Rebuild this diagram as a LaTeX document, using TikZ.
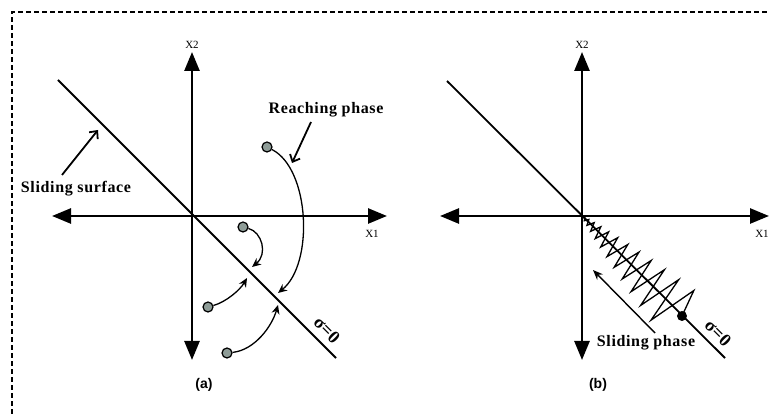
\documentclass[tikz,border=0pt]{standalone}
\usepackage{fontspec}
\setmainfont{Liberation Serif}
\newfontfamily\capfont{Liberation Sans}
\usetikzlibrary{arrows.meta,positioning}
\definecolor{dotgray}{HTML}{8E9C97}

\begin{document}
\begin{tikzpicture}[x=1pt,y=1pt,
	axis/.style={line width=2.6pt, {Triangle[length=19pt,width=15pt]}-{Triangle[length=19pt,width=15pt]}},
	surf/.style={line width=1.8pt},
	traj/.style={line width=1.3pt, -{Stealth[length=9pt,width=8pt]}},
	state/.style={circle, draw, fill=dotgray, line width=1.2pt, minimum size=10pt, inner sep=0pt},
	lbl/.style={font=\bfseries\fontsize{16}{18}\selectfont\addfontfeature{LetterSpace=4}, inner sep=1pt},
	siglbl/.style={font=\bfseries\fontsize{18}{20}\selectfont, inner sep=0pt, rotate=-45},
	axlbl/.style={font=\fontsize{11}{12}\selectfont, inner sep=1pt},
	panellbl/.style={font=\capfont\bfseries\fontsize{14}{16}\selectfont}]
		\useasboundingbox (0,0) rectangle (770,414);
		\draw[line width=1.5pt, dash pattern=on 5pt off 3pt] (12,0) -- (12,402) -- (770,402);
		
		% panel (a)
		\coordinate (Oa) at (192,198);
		\coordinate (ya1) at (192,362);
		\coordinate (ya2) at (192,54);
		\coordinate (xa1) at (52,198);
		\coordinate (xa2) at (387,198);
		\draw [axis] (ya2) -- (ya1);
		\draw [axis] (xa1) -- (xa2);
		\node [axlbl] (X2a) at (192,369) {X2};
		\node [axlbl] (X1a) at (372,180) {X1};
		\coordinate (sa1) at (58,334);
		\coordinate (sa2) at (336,56);
		\draw [surf] (sa1) -- (sa2);
		\node [siglbl] (siga) at (327,84) {σ=0};
		
		\node [lbl] (surftxt) at (76,225) {Sliding surface};
		\coordinate (surfpt) at (98,284);
		\draw [line width=1.8pt, -{Straight Barb[length=6pt,width=11pt]}] (62,239) -- (surfpt);
		\node [lbl] (reachtxt) at (326,304) {Reaching phase};
		\coordinate (reachpt) at (292,251);
		\draw [line width=1.8pt, -{Straight Barb[length=6pt,width=11pt]}] (311,292) -- (reachpt);
		
		\node [state] (d1) at (267,267) {};
		\node [state] (d2) at (243,187) {};
		\node [state] (d3) at (208,107) {};
		\node [state] (d4) at (227,61) {};
		\coordinate (e1) at (278,121);
		\coordinate (e2) at (252,147);
		\coordinate (e3) at (247,136);
		\coordinate (e4) at (278,109);
		\draw [traj] (d1) .. controls (310,245) and (314,150) .. (e1);
		\draw [traj] (d2) .. controls (262,182) and (268,160) .. (e2);
		\draw [traj] (d3) .. controls (226,112) and (240,124) .. (e3);
		\draw [traj] (d4) .. controls (255,64) and (272,88) .. (e4);
		\node [panellbl] (capa) at (204,29) {(a)};
		
		% panel (b)
		\coordinate (Ob) at (582,198);
		\coordinate (yb1) at (582,362);
		\coordinate (yb2) at (582,54);
		\coordinate (xb1) at (440,198);
		\coordinate (xb2) at (769,198);
		\draw [axis] (yb2) -- (yb1);
		\draw [axis] (xb1) -- (xb2);
		\node [axlbl] (X2b) at (582,369) {X2};
		\node [axlbl] (X1b) at (762,180) {X1};
		\coordinate (sb1) at (447,333);
		\coordinate (sb2) at (725,56);
		\draw [surf] (sb1) -- (sb2);
		\node [siglbl] (sigb) at (718,81) {σ=0};
		
		\begin{scope}[shift={(Ob)}, rotate=-45]
			\draw [line width=1.3pt, line join=miter] (0,0)
			\foreach \k [evaluate=\k as \t using {141.4*(\k/26)^1.8},
				evaluate=\k as \a using {28*(\k/26)^1.5*ifthenelse(mod(\k,2)==0,-1,1)}] in {1,...,25}
			{ -- (\t,\a) } -- (141.4,0);
			\fill (141.4,0) circle (5pt);
		\end{scope}
		\coordinate (slp1) at (655,81);
		\coordinate (slp2) at (593,144);
		\draw [line width=1.4pt, -{Stealth[length=10pt,width=8pt]}] (slp1) -- (slp2);
		\node [lbl] (slidetxt) at (646,71) {Sliding phase};
		\node [panellbl] (capb) at (598,29) {(b)};
	\end{tikzpicture}
\end{document}
